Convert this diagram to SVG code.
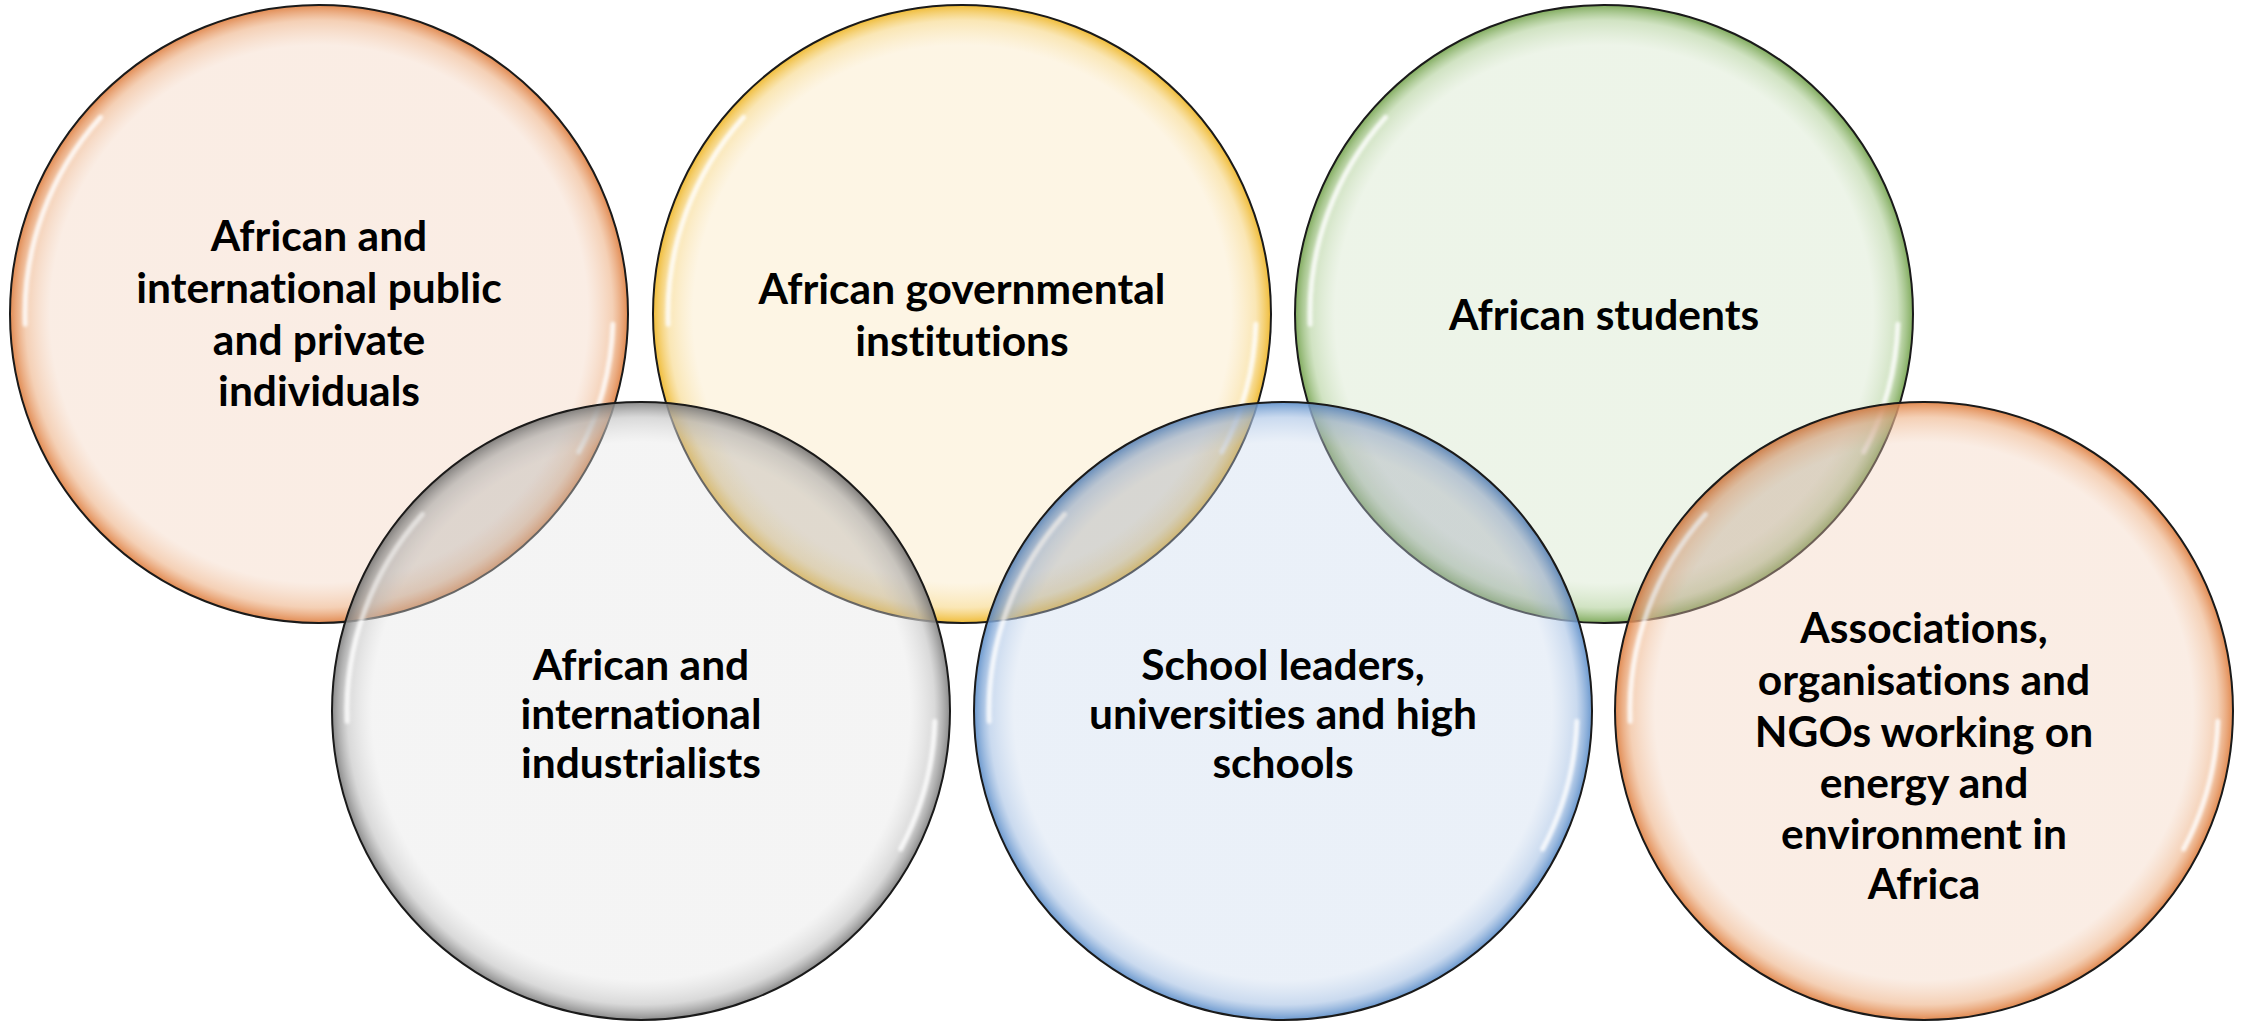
<svg xmlns="http://www.w3.org/2000/svg" xmlns:xlink="http://www.w3.org/1999/xlink" width="2241" height="1024" viewBox="0 0 2241 1024">
  <style>
    .ring { stroke: #1a1a1a; stroke-width: 2; }
    .hl { fill: none; stroke: #ffffff; stroke-width: 5; stroke-linecap: round; opacity: 0.8; filter: url(#soft); }
    .lbl { font-family: Lato, "Liberation Sans", sans-serif; font-weight: 700; font-size: 42.5px; fill: #000; text-anchor: middle; font-variant-ligatures: none; font-feature-settings: "liga" 0, "clig" 0; }
    .lens { fill: #3a2c10; fill-opacity: 0.1; }
  </style>
  <defs>
    <filter id="soft" x="-20%" y="-20%" width="140%" height="140%">
      <feGaussianBlur stdDeviation="1.8"/>
    </filter>
    <radialGradient id="gOrange">
      <stop offset="0" stop-color="#F3D2BC" stop-opacity="0.4"/>
      <stop offset="0.87" stop-color="#F3D2BC" stop-opacity="0.4"/>
      <stop offset="0.95" stop-color="#F0BC96" stop-opacity="0.7"/>
      <stop offset="1" stop-color="#E08448" stop-opacity="0.95"/>
    </radialGradient>
    <radialGradient id="gYellow">
      <stop offset="0" stop-color="#FAE6BC" stop-opacity="0.4"/>
      <stop offset="0.87" stop-color="#FAE6BC" stop-opacity="0.4"/>
      <stop offset="0.95" stop-color="#F8DC95" stop-opacity="0.7"/>
      <stop offset="1" stop-color="#EFB82C" stop-opacity="0.95"/>
    </radialGradient>
    <radialGradient id="gGreen">
      <stop offset="0" stop-color="#D2E4C6" stop-opacity="0.4"/>
      <stop offset="0.87" stop-color="#D2E4C6" stop-opacity="0.4"/>
      <stop offset="0.95" stop-color="#BDD7A9" stop-opacity="0.7"/>
      <stop offset="1" stop-color="#7AA755" stop-opacity="0.95"/>
    </radialGradient>
    <radialGradient id="gGray">
      <stop offset="0" stop-color="#E4E4E4" stop-opacity="0.4"/>
      <stop offset="0.87" stop-color="#E4E4E4" stop-opacity="0.4"/>
      <stop offset="0.95" stop-color="#C9C9C9" stop-opacity="0.7"/>
      <stop offset="1" stop-color="#858585" stop-opacity="0.95"/>
    </radialGradient>
    <radialGradient id="gBlue">
      <stop offset="0" stop-color="#CBDAEE" stop-opacity="0.4"/>
      <stop offset="0.87" stop-color="#CBDAEE" stop-opacity="0.4"/>
      <stop offset="0.95" stop-color="#B3CAE8" stop-opacity="0.7"/>
      <stop offset="1" stop-color="#6393CC" stop-opacity="0.95"/>
    </radialGradient>
    <g id="hls">
      <path class="hl" d="M -293.8 10.3 A 294 294 0 0 1 -218.5 -196.7"/>
      <path class="hl" d="M 293.8 10.3 A 294 294 0 0 1 259.6 138.0"/>
    </g>
    <clipPath id="cp1"><circle cx="319" cy="314" r="309"/></clipPath>
    <clipPath id="cp2"><circle cx="962" cy="314" r="309"/></clipPath>
    <clipPath id="cp3"><circle cx="1604" cy="314" r="309"/></clipPath>
  </defs>
  <rect width="2241" height="1024" fill="#ffffff"/>

  <g id="n1" transform="translate(319,314)">
    <circle class="ring" r="309" fill="url(#gOrange)"/>
    <use href="#hls"/>
    <text class="lbl" y="-63">African and</text>
    <text class="lbl" y="-11">international public</text>
    <text class="lbl" y="41">and private</text>
    <text class="lbl" y="92">individuals</text>
  </g>
  <g id="n2" transform="translate(962,314)">
    <circle class="ring" r="309" fill="url(#gYellow)"/>
    <use href="#hls"/>
    <text class="lbl" y="-10">African governmental</text>
    <text class="lbl" y="42">institutions</text>
  </g>
  <g id="n3" transform="translate(1604,314)">
    <circle class="ring" r="309" fill="url(#gGreen)"/>
    <use href="#hls"/>
    <text class="lbl" y="16">African students</text>
  </g>
  <g id="n4" transform="translate(641,711)">
    <circle class="ring" r="309" fill="url(#gGray)"/>
    <use href="#hls"/>
    <text class="lbl" y="-31">African and</text>
    <text class="lbl" y="18">international</text>
    <text class="lbl" y="67">industrialists</text>
  </g>
  <g id="n5" transform="translate(1283,711)">
    <circle class="ring" r="309" fill="url(#gBlue)"/>
    <use href="#hls"/>
    <text class="lbl" y="-31">School leaders,</text>
    <text class="lbl" y="18">universities and high</text>
    <text class="lbl" y="67">schools</text>
  </g>
  <g id="n6" transform="translate(1924,711)">
    <circle class="ring" r="309" fill="url(#gOrange)"/>
    <use href="#hls"/>
    <text class="lbl" y="-68">Associations,</text>
    <text class="lbl" y="-16">organisations and</text>
    <text class="lbl" y="36">NGOs working on</text>
    <text class="lbl" y="87">energy and</text>
    <text class="lbl" y="138">environment in</text>
    <text class="lbl" y="188">Africa</text>
  </g>

  <g id="overlaps">
    <circle class="lens" cx="641" cy="711" r="309" clip-path="url(#cp1)"/>
    <circle class="lens" cx="641" cy="711" r="309" clip-path="url(#cp2)"/>
    <circle class="lens" cx="1283" cy="711" r="309" clip-path="url(#cp2)"/>
    <circle class="lens" cx="1283" cy="711" r="309" clip-path="url(#cp3)"/>
    <circle class="lens" cx="1924" cy="711" r="309" clip-path="url(#cp3)"/>
  </g>
</svg>
